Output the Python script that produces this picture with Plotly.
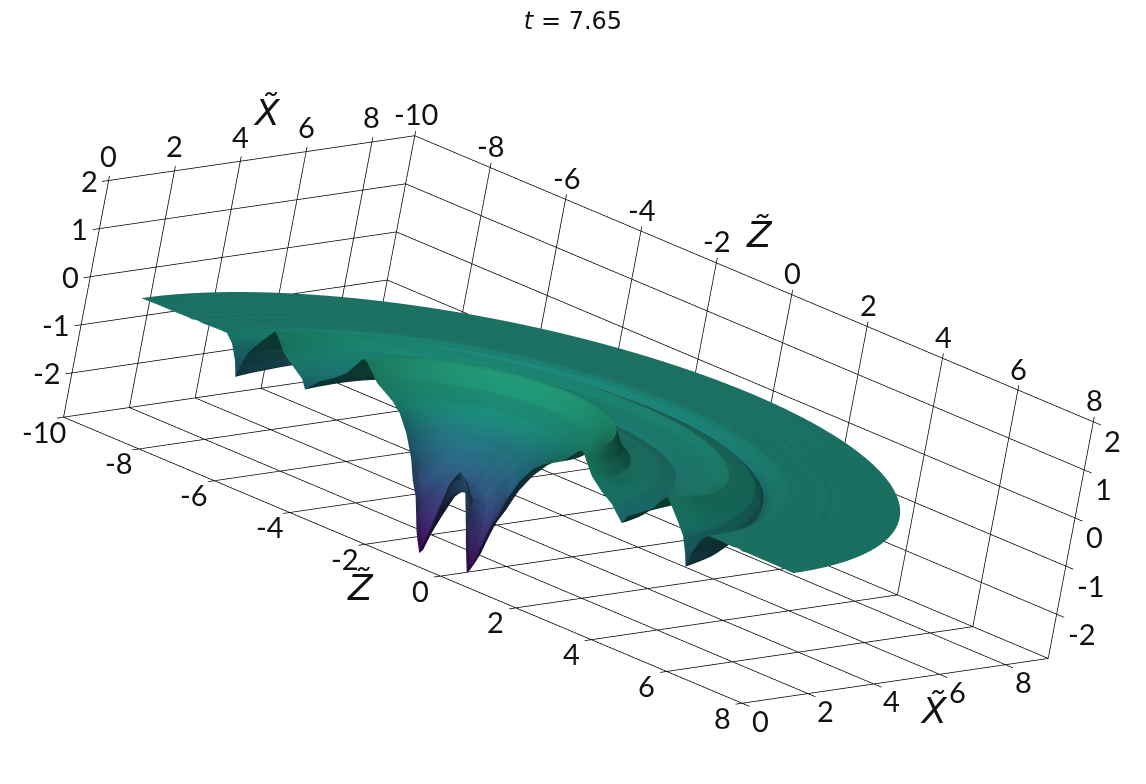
import numpy as np
import plotly.graph_objects as go

# radial profile of the sheet (distance from the axis, height)
radius = [0, .2, .35, .5, .63, .72, .8, .98, 1.13, 1.27, 1.5, 1.76, 2.0, 2.25, 2.46, 2.65, 2.8, 2.87, 2.95, 3.05, 3.25, 3.55, 3.87, 4.05, 4.2, 4.32,
          4.57, 4.89, 5.05, 5.2, 5.35, 5.58, 5.77, 5.9, 5.97, 6.05, 6.21, 6.38, 6.6, 7.0, 7.2, 7.3, 7.4, 7.8, 8.2, 8.65]
height = [-.75, -1.05, -1.6, -2.2, -2.65, -2.45, -2.25, -1.6, -1.3, -.9, -.46, -.12, .06, .18, .28, .46, .6, .64, .6, .47, .23, .02, -.145, -.3, -.43, -.25,
          -.1, .1, .3, .45, .3, .05, -.18, -.5, -.75, -.45, -.13, .025, .03, .015, .03, .005, .015, .01, .01, 0]
# how much of the central funnel (first list) and outer rings (second list) is affected by the angular change
center_share = [0, .15, .4, .8, 1, 1, 1, 1, 1, .9, .7, .4] + [0] * 34
ring_share = [0] * 18 + [.3, .6] + [1] * 26
gain_angle = [0, 8, 20, 35, 50, 70, 90, 110, 130, 145, 160, 172, 180]
center_gain = [1, .98, .85, .7, .55, .45, .42, .45, .55, .7, .85, .98, 1]
ring_gain = [1, .85, .5, .32, .28, .26, .26, .3, .38, .5, .7, .9, 1]
angle_deg = list(range(180, -1, -2))

z_box = [-10, 8]
x_box = [0, 9.3]
y_box = [-2.92, 2]
z_range = [-10.3, 8.8]
x_range = [-.3, 9.6]
y_range = [-3.2, 2.3]
z_ticks = [-10, -8, -6, -4, -2, 0, 2, 4, 6, 8]
x_ticks = [0, 2, 4, 6, 8]
y_ticks = [-2, -1, 0, 1, 2]
title_text = "<i>t</i> = 7.65"
x_title = "<i>X\u0303</i>"
z_title = "<i>Z\u0303</i>"

r = np.array(radius)
th = np.radians(angle_deg)
gc = np.interp(angle_deg, gain_angle, center_gain)
gr = np.interp(angle_deg, gain_angle, ring_gain)
X = np.outer(np.sin(th), r)
Z = np.outer(np.cos(th), r)
h = np.array(height)
Y = h * (1 - np.outer(1 - gc, center_share)) * (1 - np.outer(1 - gr, ring_share))

fig = go.Figure()
scale_stops = [0, .222, .5, .667, .778, 1]
scale_colors = ["#440154", "#46327e", "#31688e", "#26828e", "#1f9e89", "#27a87c"]
cs = [[p, c] for p, c in zip(scale_stops, scale_colors)]
fig.add_trace(go.Surface(
    x=Z, y=X, z=Y, surfacecolor=Y, colorscale=cs, cmin=-2.8, cmax=.8, showscale=False, hoverinfo="skip",
    lighting=dict(ambient=.35, diffuse=.6, specular=.05, roughness=.6, fresnel=.1),
    lightposition=dict(x=-4000, y=5000, z=-7500),
))

zl, zh = z_box
xl, xh = x_box
yl, yh = y_box
oz, ox, oy = .2, .2, .1
segments = [
    ((zl, xl, yh), (zl, xh, yh)), ((zl, xh, yh), (zh, xh, yh)),
    ((zl, xl, yh), (zl, xl, yl)), ((zl, xl, yl), (zh, xl, yl)), ((zh, xl, yl), (zh, xh, yl)),
    ((zh, xh, yl), (zl, xh, yl)), ((zl, xh, yl), (zl, xl, yl)),
    ((zl, xh, yh), (zl, xh, yl)), ((zh, xh, yh), (zh, xh, yl)),
]
for v in y_ticks:
    segments.append(((zl, xl - ox, v), (zl, xh, v)))
    segments.append(((zl, xh, v), (zh + oz, xh, v)))
for v in x_ticks:
    segments.append(((zl, v, yl), (zl, v, yh + oy)))
    segments.append(((zl, v, yl), (zh + oz, v, yl)))
for v in z_ticks:
    segments.append(((v, xh, yl), (v, xh, yh + oy)))
    segments.append(((v, xl - ox, yl), (v, xh, yl)))
ex, ey, ez = [], [], []
for a, b in segments:
    ex += [a[0], b[0], None]
    ey += [a[1], b[1], None]
    ez += [a[2], b[2], None]
fig.add_trace(go.Scatter3d(x=ex, y=ey, z=ez, mode="lines", line=dict(color="#000000", width=1.5), hoverinfo="skip", showlegend=False))

TICK = dict(family="Lato", size=29, color="#111111")
TITLE = dict(family="DejaVu Sans", size=36, color="#111111")


def label(x, y, z, text, dx=0, dy=0, anchor="center", font=TICK):
    return dict(x=x, y=y, z=z, text=str(text), showarrow=False, xshift=dx, yshift=-dy, xanchor=anchor, yanchor="middle", font=font)


ann = []
for v in z_ticks:
    ann.append(label(v, xl, yl, v, -20, 14))
    ann.append(label(v, xh, yh, v, 1, -22))
for v in x_ticks:
    ann.append(label(zl, v, yh, v, 0, -25))
    ann.append(label(zh, v, yl, v, 18, 17))
for v in y_ticks:
    ann.append(label(zl, xl, v, v, -9, 0, "right"))
    ann.append(label(zh, xh, v, v, 9, 19, "left"))
ann.append(label(zl, 4.8, yh, x_title, 0, -45, font=TITLE))
ann.append(label(zh, 6, yl, x_title, -6, 36, font=TITLE))
ann.append(label(-1, xh, yh, z_title, 5, -44, font=TITLE))
ann.append(label(-2, xl, yl, z_title, -5, 43, font=TITLE))


def axis(rng, ticks):
    return dict(range=rng, tickvals=ticks, showticklabels=False, title=dict(text=""), showbackground=False, showgrid=False,
                zeroline=False, showline=False, showspikes=False, ticks="")


w = np.array([.594, -.756, .272])
center = np.array([-.043, .0088, .0469])
d = 1.5
eye = center + d * w

fig.update_layout(
    width=1146, height=784, margin=dict(l=0, r=0, t=0, b=0), paper_bgcolor="white", showlegend=False,
    title=dict(text=title_text, x=.493, xanchor="center", y=.984, yanchor="middle", font=dict(family="DejaVu Sans", size=24, color="#111111")),
    scene=dict(
        domain=dict(x=[0, 1], y=[0, 1]),
        xaxis=axis(z_range, z_ticks), yaxis=axis(x_range, x_ticks), zaxis=axis(y_range, y_ticks),
        aspectmode="manual", aspectratio=dict(x=2.479, y=1.285, z=.714),
        camera=dict(eye=dict(x=eye[0], y=eye[1], z=eye[2]), center=dict(x=center[0], y=center[1], z=center[2]),
                    up=dict(x=-.312, y=.0943, z=.945), projection=dict(type="orthographic")),
        annotations=ann,
    ),
)
fig.write_html("out.html")
